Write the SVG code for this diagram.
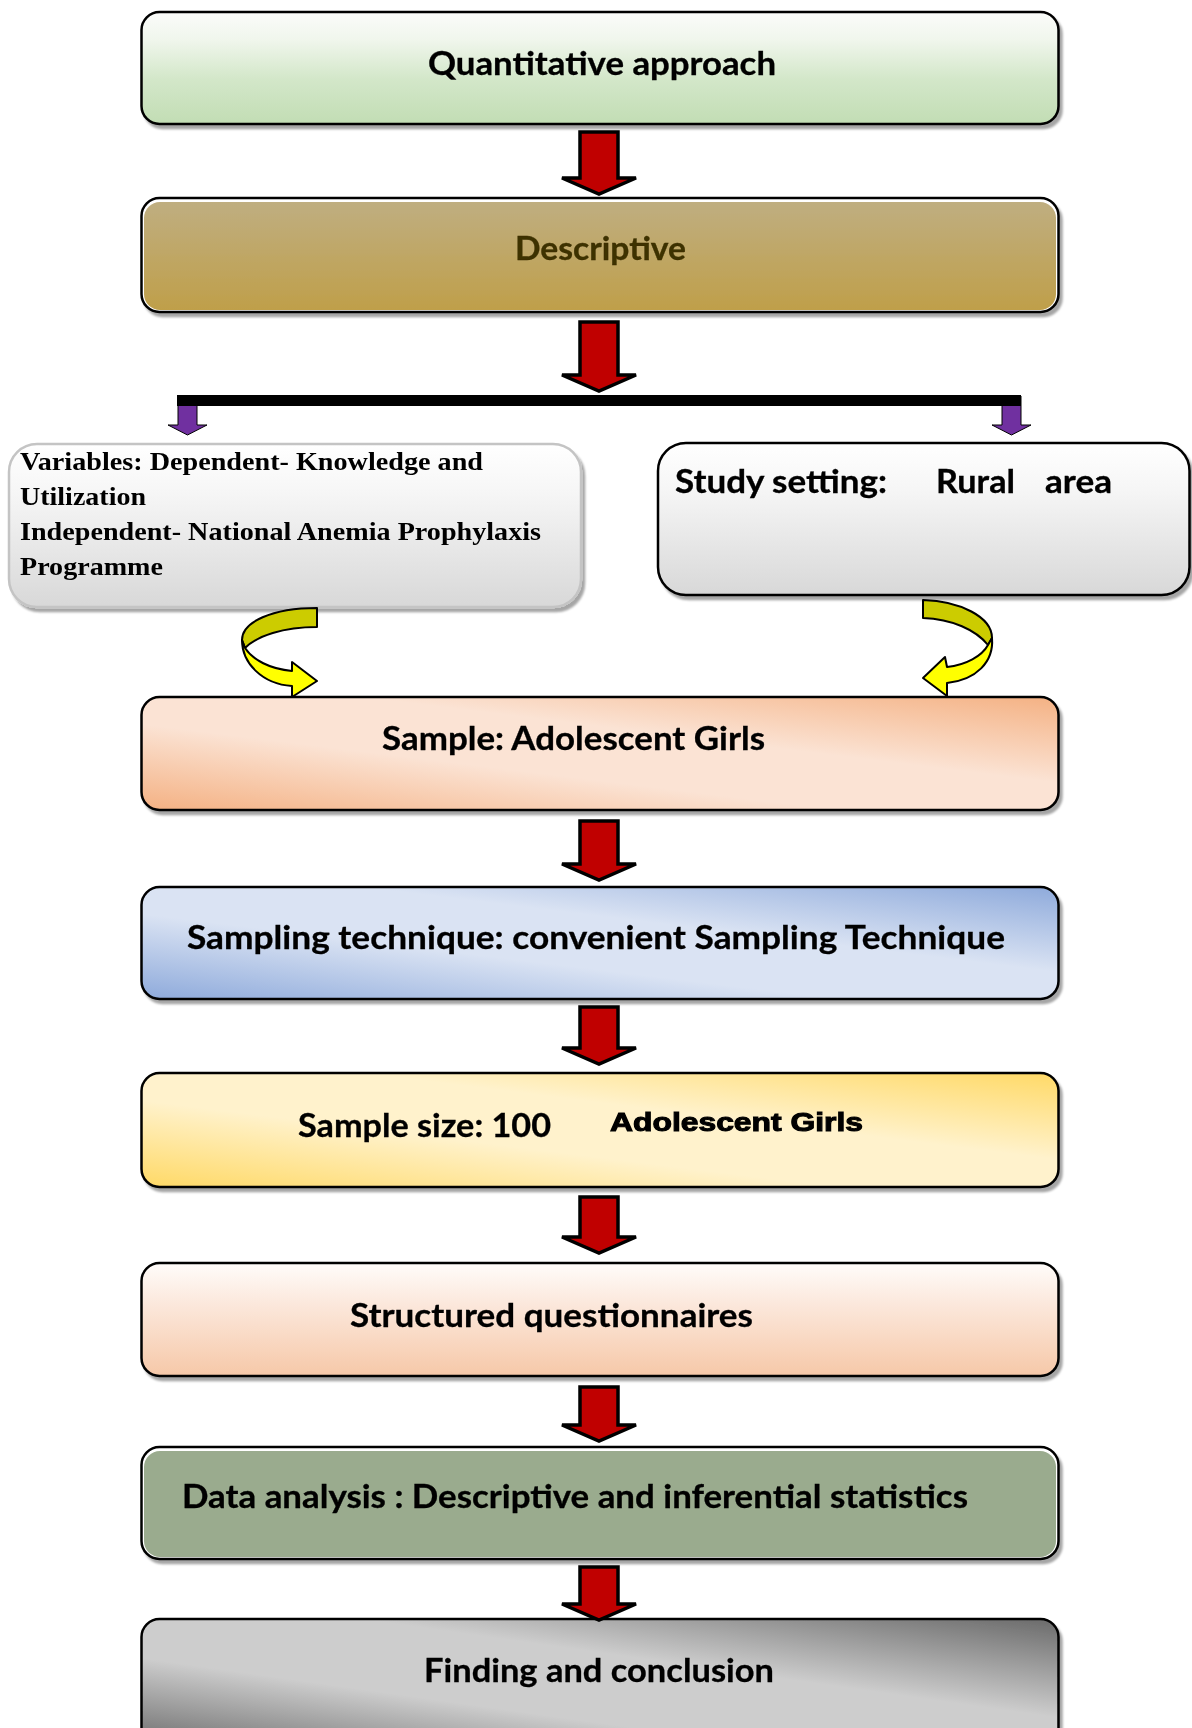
<svg xmlns="http://www.w3.org/2000/svg" width="1192" height="1728" viewBox="0 0 1192 1728">
<defs>
<style>
.box{stroke:#000;stroke-width:2.5}
.t{font-family:Lato,"Open Sans","Liberation Sans",sans-serif;font-weight:bold;font-size:32px;fill:#000;stroke:#000;stroke-width:0.3}
.tv{font-family:"Liberation Serif","Times New Roman",serif;font-weight:bold;font-size:26px;fill:#000}
.ra{fill:#c00000;stroke:#000;stroke-width:3.5;stroke-linejoin:miter}
.pa{fill:#7030a0;stroke:#000;stroke-width:1}
.yd{fill:#cccc00;stroke:#000;stroke-width:2;stroke-linejoin:round}
.yb{fill:#ffff00;stroke:#000;stroke-width:2;stroke-linejoin:round}
</style>
<filter id="sh" x="-5%" y="-10%" width="110%" height="130%">
<feDropShadow dx="3" dy="4" stdDeviation="1.2" flood-color="#000" flood-opacity="0.35"/>
</filter>
<linearGradient id="gGreen" x1="0" y1="0" x2="0" y2="1">
<stop offset="0" stop-color="#fbfcfa"/><stop offset="0.25" stop-color="#f0f6ec"/><stop offset="0.6" stop-color="#d3e7c9"/><stop offset="1" stop-color="#c2ddb4"/>
</linearGradient>
<linearGradient id="gTan" x1="0" y1="0" x2="0" y2="1">
<stop offset="0" stop-color="#bfae80"/><stop offset="1" stop-color="#bf9f4a"/>
</linearGradient>
<linearGradient id="gOrange" x1="0" y1="1" x2="1" y2="0">
<stop offset="0" stop-color="#f4b183"/><stop offset="0.38" stop-color="#fbe3d4"/><stop offset="0.62" stop-color="#fbe3d4"/><stop offset="1" stop-color="#f4b183"/>
</linearGradient>
<linearGradient id="gBlue" x1="0" y1="1" x2="1" y2="0">
<stop offset="0" stop-color="#8eaadb"/><stop offset="0.38" stop-color="#dae3f3"/><stop offset="0.62" stop-color="#dae3f3"/><stop offset="1" stop-color="#8eaadb"/>
</linearGradient>
<linearGradient id="gYellow" x1="0" y1="1" x2="1" y2="0">
<stop offset="0" stop-color="#ffd966"/><stop offset="0.38" stop-color="#fff2cc"/><stop offset="0.62" stop-color="#fff2cc"/><stop offset="1" stop-color="#ffd966"/>
</linearGradient>
<linearGradient id="gPeach" x1="0" y1="0" x2="0" y2="1">
<stop offset="0" stop-color="#fffcfa"/><stop offset="0.3" stop-color="#fcebe1"/><stop offset="1" stop-color="#f6c8a8"/>
</linearGradient>
<linearGradient id="gGrayD" x1="0" y1="1" x2="1" y2="0">
<stop offset="0" stop-color="#6a6a6a"/><stop offset="0.35" stop-color="#cdcdcd"/><stop offset="0.62" stop-color="#cdcdcd"/><stop offset="1" stop-color="#6a6a6a"/>
</linearGradient>
<linearGradient id="gGrayV" x1="0" y1="0" x2="0" y2="1">
<stop offset="0" stop-color="#ffffff"/><stop offset="0.3" stop-color="#f6f6f6"/><stop offset="1" stop-color="#d8d8d8"/>
</linearGradient>
</defs>

<g id="n1" filter="url(#sh)">
<rect class="box" x="141.5" y="12" width="917" height="112" rx="18" fill="url(#gGreen)"/>
<text class="t" x="428" y="75" textLength="348" lengthAdjust="spacingAndGlyphs">Quantitative approach</text>
</g>

<g id="n2" filter="url(#sh)">
<rect class="box" x="141.5" y="198" width="917" height="114" rx="18" fill="#fff" stroke="#1e1800"/>
<rect x="144" y="202" width="912" height="108" rx="16" fill="url(#gTan)"/>
<text class="t" x="515" y="260" textLength="171" lengthAdjust="spacingAndGlyphs" style="fill:#3d3000;stroke:#3d3000">Descriptive</text>
</g>

<g id="n3" filter="url(#sh)">
<rect x="9" y="444" width="572" height="163" rx="28" fill="url(#gGrayV)" stroke="#c4c4c4" stroke-width="2.5"/>
<text class="tv" x="20" y="470" textLength="463" lengthAdjust="spacingAndGlyphs">Variables: Dependent- Knowledge and</text>
<text class="tv" x="20" y="505" textLength="126" lengthAdjust="spacingAndGlyphs">Utilization</text>
<text class="tv" x="20" y="540" textLength="521" lengthAdjust="spacingAndGlyphs">Independent- National Anemia Prophylaxis</text>
<text class="tv" x="20" y="575" textLength="143" lengthAdjust="spacingAndGlyphs">Programme</text>
</g>

<g id="n4" filter="url(#sh)">
<rect class="box" x="658" y="443" width="531.5" height="152" rx="28" fill="url(#gGrayV)"/>
<text class="t" y="493"><tspan x="675" textLength="212" lengthAdjust="spacingAndGlyphs">Study setting:</tspan><tspan x="936" textLength="79" lengthAdjust="spacingAndGlyphs">Rural</tspan><tspan x="1045" textLength="67" lengthAdjust="spacingAndGlyphs">area</tspan></text>
</g>

<g id="n5" filter="url(#sh)">
<rect class="box" x="141.5" y="697" width="917" height="113" rx="18" fill="url(#gOrange)"/>
<text class="t" x="382" y="750" textLength="383" lengthAdjust="spacingAndGlyphs">Sample: Adolescent Girls</text>
</g>

<g id="n6" filter="url(#sh)">
<rect class="box" x="141.5" y="887" width="917" height="112" rx="18" fill="url(#gBlue)"/>
<text class="t" x="187" y="949" textLength="818" lengthAdjust="spacingAndGlyphs">Sampling technique: convenient Sampling Technique</text>
</g>

<g id="n7" filter="url(#sh)">
<rect class="box" x="141.5" y="1073" width="917" height="114" rx="18" fill="url(#gYellow)"/>
<text class="t" x="298" y="1137" textLength="253" lengthAdjust="spacingAndGlyphs">Sample size: 100</text>
<text x="610" y="1131" textLength="253" lengthAdjust="spacingAndGlyphs" style="font-family:'Liberation Sans',Arial,sans-serif;font-weight:bold;font-size:25px;fill:#000;stroke:#000;stroke-width:1">Adolescent Girls</text>
</g>

<g id="n8" filter="url(#sh)">
<rect class="box" x="141.5" y="1263" width="917" height="113" rx="18" fill="url(#gPeach)"/>
<text class="t" x="350" y="1327" textLength="403" lengthAdjust="spacingAndGlyphs">Structured questionnaires</text>
</g>

<g id="n9" filter="url(#sh)">
<rect class="box" x="141.5" y="1447" width="917" height="112" rx="18" fill="#fff"/>
<rect x="144" y="1451" width="912" height="106" rx="16" fill="#9aab8e"/>
<text class="t" x="182" y="1508" textLength="786" lengthAdjust="spacingAndGlyphs">Data analysis : Descriptive and inferential statistics</text>
</g>

<g id="n10" filter="url(#sh)">
<rect class="box" x="141.5" y="1619" width="917" height="130" rx="18" fill="url(#gGrayD)"/>
<text class="t" x="424" y="1682" textLength="350" lengthAdjust="spacingAndGlyphs">Finding and conclusion</text>
</g>

<g id="connectors">
<path class="ra" d="M580,132 H618 V178 H636 L599,194 L562,178 H580 Z"/>
<path class="ra" d="M580,322 H618 V375 H636 L599,391 L562,375 H580 Z"/>
<path class="pa" d="M178,396 H197 V425 H207 L187.5,435 L168,425 H178 Z"/>
<path class="pa" d="M1002,396 H1021 V425 H1031 L1011.5,435 L992,425 H1002 Z"/>
<rect x="177" y="395" width="844" height="11" fill="#000"/>
<path class="yd" d="M317,608 C272,608 242,622 242,640 L245,648 C257,636 283,627 317,627 Z"/>
<path class="yb" d="M242,640 C242,663 262,684 292,686 L292,697 L317,681 L292,662 L292,671 C270,669 253,660 245,648 Z"/>
<path class="yd" d="M923,600 C960,601 992,617 992,638 L988,645 C976,630 952,619 923,618 Z"/>
<path class="yb" d="M992,638 C994,662 976,680 947,683 L947,696 L923,678 L945,657 L947,667 C966,665 982,656 988,645 Z"/>
<path class="ra" d="M580,821 H618 V864 H636 L599,880 L562,864 H580 Z"/>
<path class="ra" d="M580,1007 H618 V1048 H636 L599,1064 L562,1048 H580 Z"/>
<path class="ra" d="M580,1197 H618 V1237 H636 L599,1253 L562,1237 H580 Z"/>
<path class="ra" d="M580,1387 H618 V1425 H636 L599,1441 L562,1425 H580 Z"/>
<path class="ra" d="M580,1567 H618 V1604 H636 L599,1620 L562,1604 H580 Z"/>
</g>
</svg>
